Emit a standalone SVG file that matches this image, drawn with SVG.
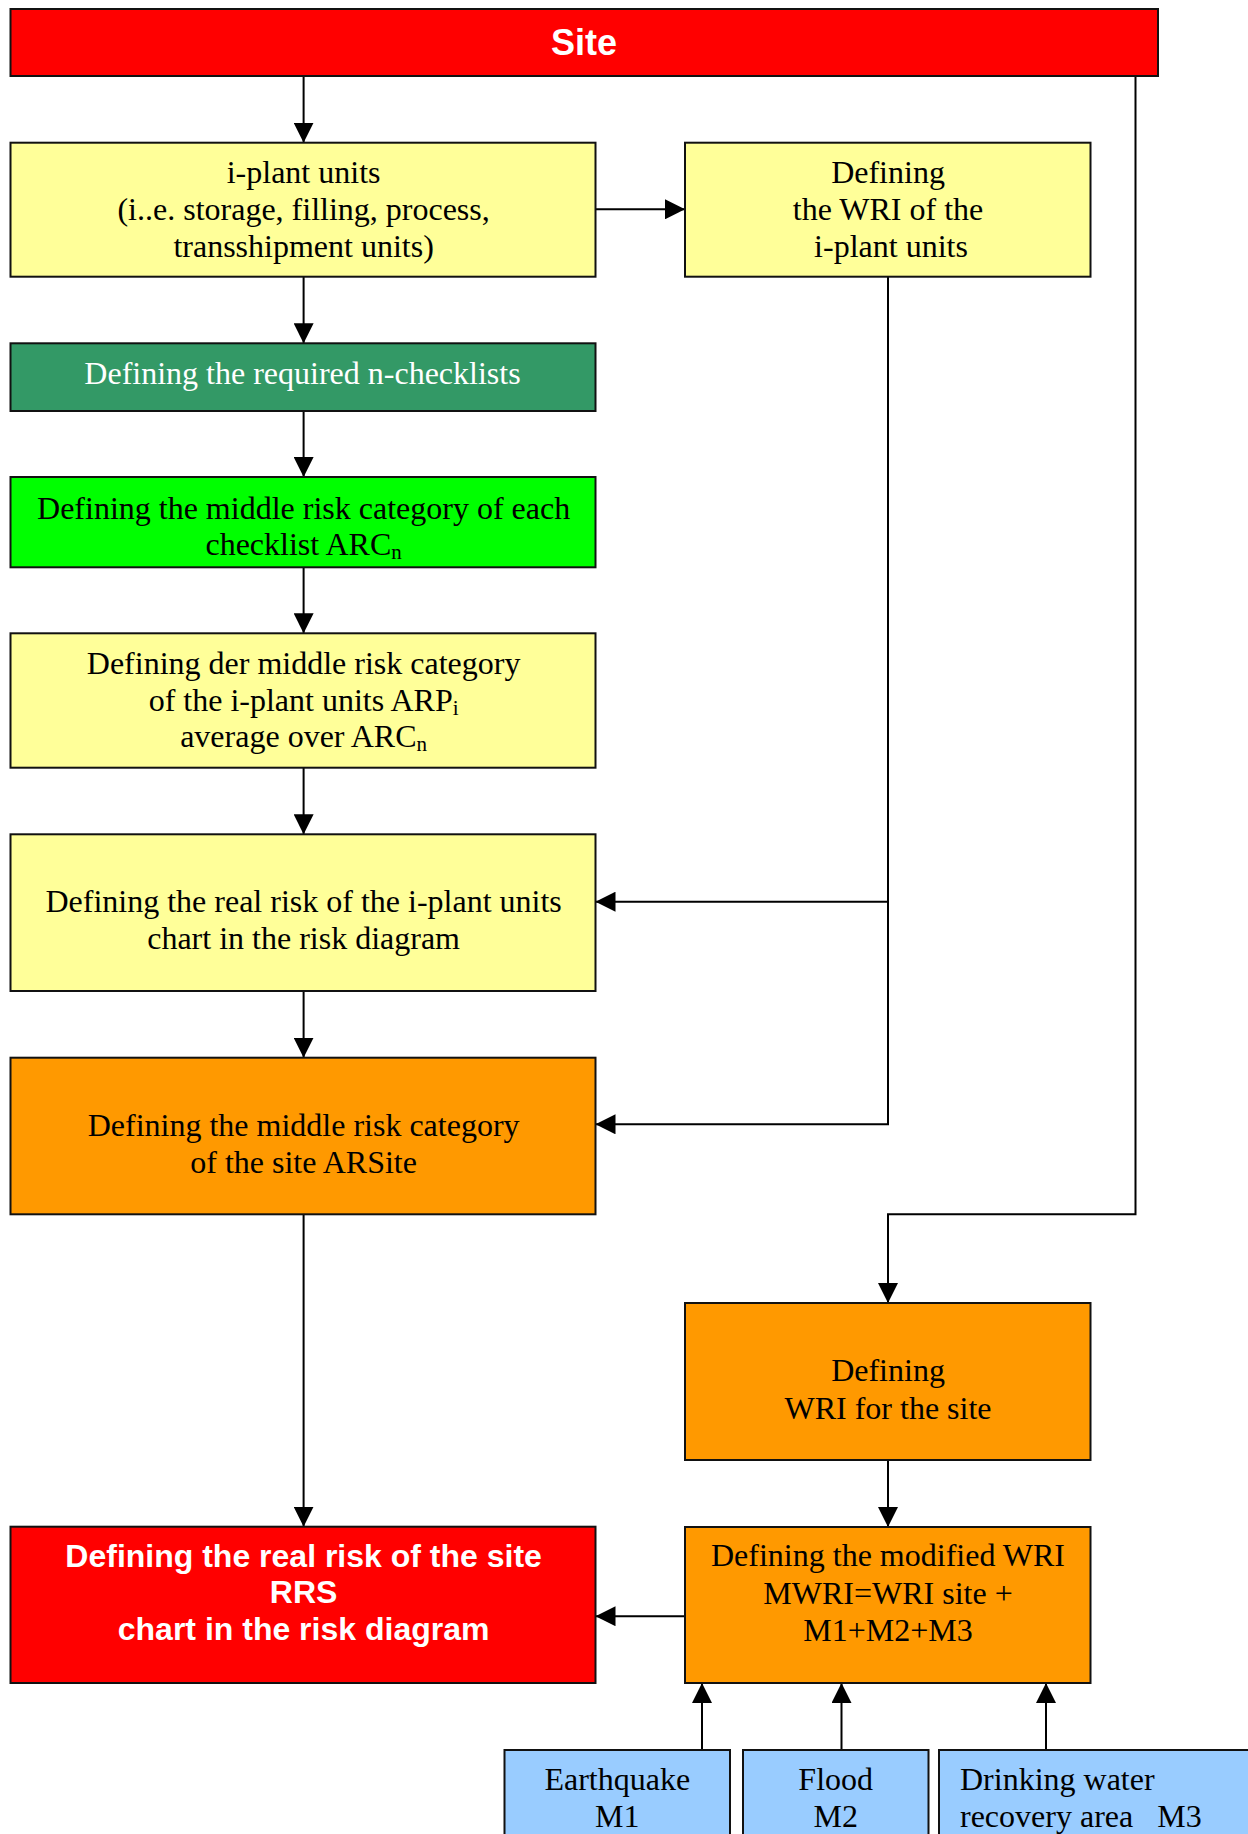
<svg xmlns="http://www.w3.org/2000/svg" width="1248" height="1834" viewBox="0 0 1248 1834">
<style>
.box{stroke:#111;stroke-width:2}
.t{font-family:"Liberation Serif","Times New Roman",serif;font-size:32px;fill:#000;text-anchor:middle}
.w{fill:#fff}
.b{font-family:"Liberation Sans",Arial,sans-serif;font-weight:bold;fill:#fff;text-anchor:middle;font-size:32px}
.sub{font-size:21px}
.c{fill:none;stroke:#000;stroke-width:2}
</style>
<defs>
<marker id="ah" markerUnits="userSpaceOnUse" markerWidth="20" markerHeight="20" refX="20" refY="10" orient="auto">
<path d="M0,0 L20,10 L0,20 z" fill="#000"/>
</marker>
</defs>
<rect width="1248" height="1834" fill="#fff"/>
<g id="connectors">
<path class="c" d="M303.6,76 V142.7" marker-end="url(#ah)"/>
<path class="c" d="M303.6,276.7 V343.3" marker-end="url(#ah)"/>
<path class="c" d="M303.6,411 V477" marker-end="url(#ah)"/>
<path class="c" d="M303.6,567.3 V633.3" marker-end="url(#ah)"/>
<path class="c" d="M303.6,767.7 V834.3" marker-end="url(#ah)"/>
<path class="c" d="M303.6,991 V1057.7" marker-end="url(#ah)"/>
<path class="c" d="M303.6,1214.3 V1526.7" marker-end="url(#ah)"/>
<path class="c" d="M595.5,209.3 H685" marker-end="url(#ah)"/>
<path class="c" d="M888,276.7 V901.7 H595.5" marker-end="url(#ah)"/>
<path class="c" d="M888,901.7 V1124.3 H595.5" marker-end="url(#ah)"/>
<path class="c" d="M1135.5,76 V1214.3 H888 V1303" marker-end="url(#ah)"/>
<path class="c" d="M888,1460 V1527" marker-end="url(#ah)"/>
<path class="c" d="M685,1616.2 H595.5" marker-end="url(#ah)"/>
<path class="c" d="M702,1750 V1683" marker-end="url(#ah)"/>
<path class="c" d="M841.5,1750 V1683" marker-end="url(#ah)"/>
<path class="c" d="M1046,1750 V1683" marker-end="url(#ah)"/>
</g>
<g id="site">
<rect class="box" x="10.5" y="9" width="1147.5" height="67" fill="#FF0000"/>
<text class="b" x="584" y="55" style="font-size:36px">Site</text>
</g>
<g id="iplant">
<rect class="box" x="10.5" y="142.7" width="585" height="134" fill="#FFFF99"/>
<text class="t" x="303.6" y="183">i-plant units</text>
<text class="t" x="303.6" y="220">(i..e. storage, filling, process,</text>
<text class="t" x="303.6" y="257">transshipment units)</text>
</g>
<g id="wri-iplant">
<rect class="box" x="685" y="142.7" width="405.5" height="134" fill="#FFFF99"/>
<text class="t" x="888" y="183">Defining</text>
<text class="t" x="888" y="220">the WRI of the</text>
<text class="t" x="891" y="257">i-plant units</text>
</g>
<g id="checklists">
<rect class="box" x="10.5" y="343.3" width="585" height="67.7" fill="#339966"/>
<text class="t w" x="302.5" y="384">Defining the required n-checklists</text>
</g>
<g id="arc">
<rect class="box" x="10.5" y="477" width="585" height="90.3" fill="#00FF00"/>
<text class="t" x="303.6" y="518.5">Defining the middle risk category of each</text>
<text class="t" x="303.6" y="555">checklist ARC<tspan class="sub" dy="4">n</tspan></text>
</g>
<g id="arp">
<rect class="box" x="10.5" y="633.3" width="585" height="134.4" fill="#FFFF99"/>
<text class="t" x="303.6" y="674">Defining der middle risk category</text>
<text class="t" x="303.6" y="710.5">of the i-plant units ARP<tspan class="sub" dy="4">i</tspan></text>
<text class="t" x="303.6" y="747">average over ARC<tspan class="sub" dy="4">n</tspan></text>
</g>
<g id="realrisk">
<rect class="box" x="10.5" y="834.3" width="585" height="156.7" fill="#FFFF99"/>
<text class="t" x="303.6" y="912">Defining the real risk of the i-plant units</text>
<text class="t" x="303.6" y="949">chart in the risk diagram</text>
</g>
<g id="arsite">
<rect class="box" x="10.5" y="1057.7" width="585" height="156.6" fill="#FF9900"/>
<text class="t" x="303.6" y="1135.5">Defining the middle risk category</text>
<text class="t" x="303.6" y="1172.5">of the site ARSite</text>
</g>
<g id="wrisite">
<rect class="box" x="685" y="1303" width="405.5" height="157" fill="#FF9900"/>
<text class="t" x="888" y="1381">Defining</text>
<text class="t" x="888" y="1418.5">WRI for the site</text>
</g>
<g id="rrs">
<rect class="box" x="10.5" y="1526.7" width="585" height="156.3" fill="#FF0000"/>
<text class="b" x="303.6" y="1566.7">Defining the real risk of the site</text>
<text class="b" x="303.6" y="1603.3">RRS</text>
<text class="b" x="303.6" y="1640">chart in the risk diagram</text>
</g>
<g id="mwri">
<rect class="box" x="685" y="1527" width="405.5" height="156" fill="#FF9900"/>
<text class="t" x="888" y="1566.4">Defining the modified WRI</text>
<text class="t" x="888" y="1603.6">MWRI=WRI site +</text>
<text class="t" x="888" y="1640.5">M1+M2+M3</text>
</g>
<g id="earthquake">
<rect class="box" x="504.5" y="1750" width="225.5" height="100" fill="#99CCFF"/>
<text class="t" x="617.3" y="1790">Earthquake</text>
<text class="t" x="617.3" y="1826.7">M1</text>
</g>
<g id="flood">
<rect class="box" x="743" y="1750" width="185.5" height="100" fill="#99CCFF"/>
<text class="t" x="835.7" y="1790">Flood</text>
<text class="t" x="835.7" y="1826.7">M2</text>
</g>
<g id="drinking">
<rect class="box" x="939" y="1750" width="320" height="100" fill="#99CCFF"/>
<text class="t" x="960" y="1790" style="text-anchor:start">Drinking water</text>
<text class="t" x="960" y="1826.7" style="text-anchor:start;white-space:pre" xml:space="preserve">recovery area   M3</text>
</g>
</svg>
